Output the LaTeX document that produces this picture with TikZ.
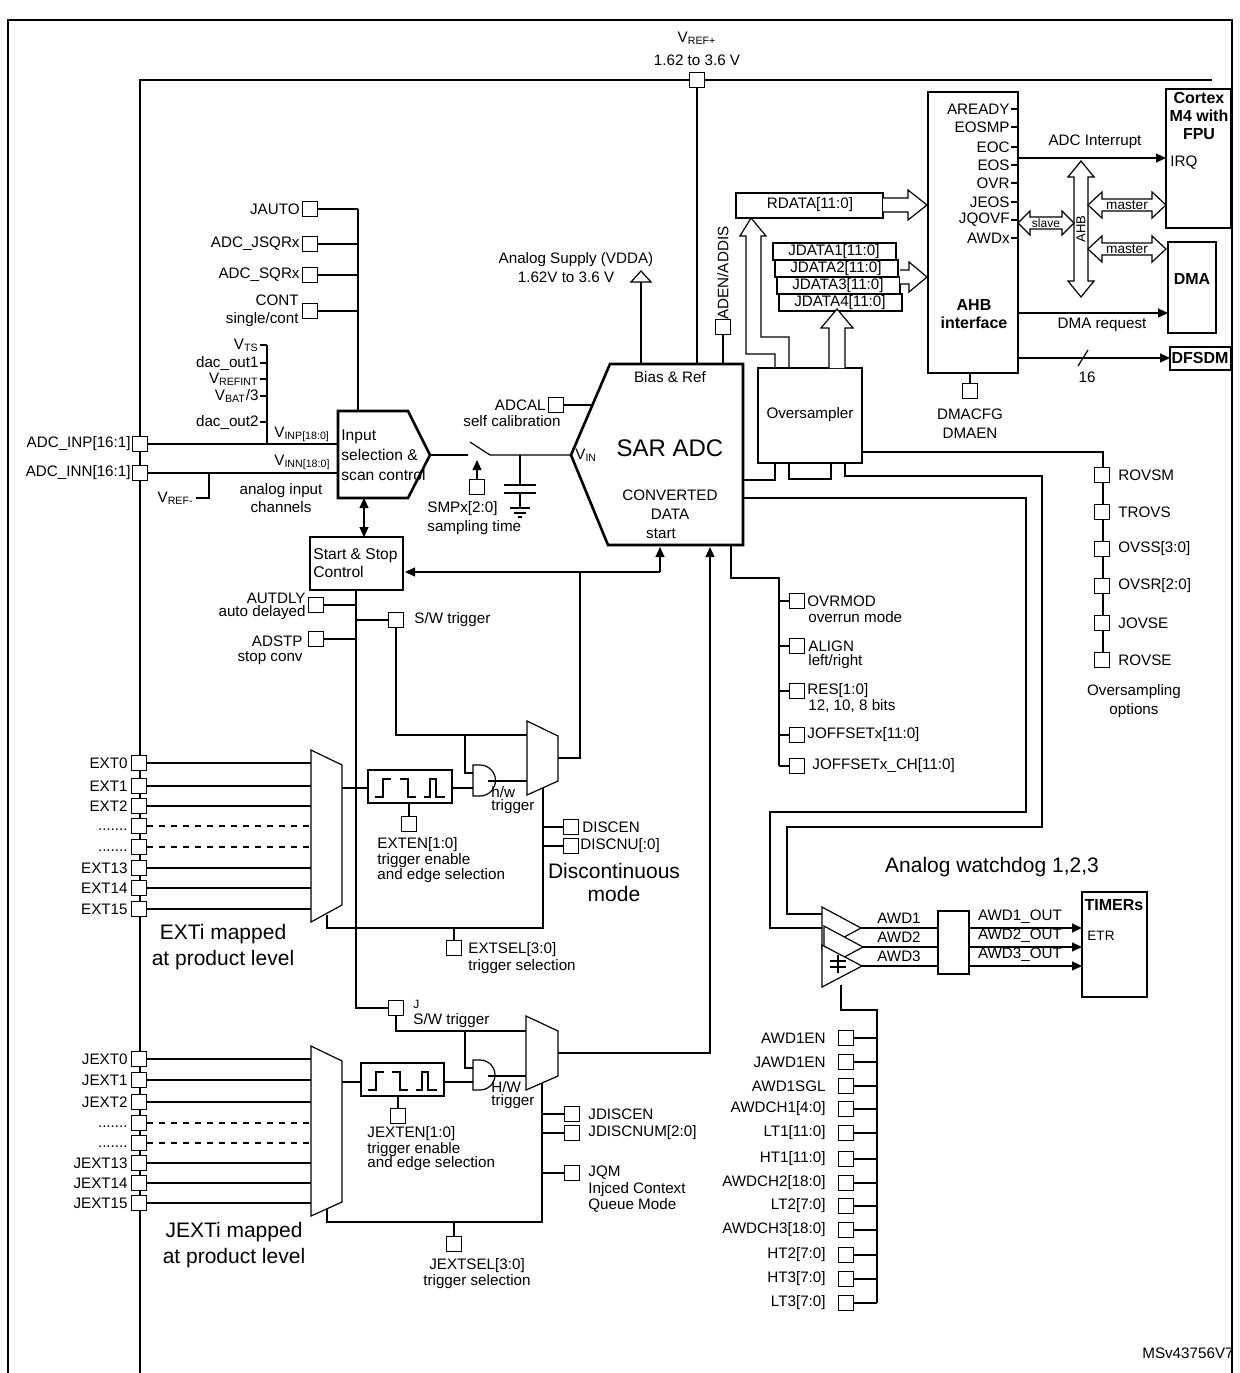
\documentclass[tikz,border=0pt]{standalone}
\usepackage{fontspec}
\setmainfont{Liberation Sans}
\usetikzlibrary{arrows.meta}
\begin{document}
\begin{tikzpicture}[x=0.5pt,y=-0.5pt,
 every node/.style={font=\fontsize{7.6}{9}\selectfont, inner sep=0pt},
 w/.style={line width=0.6pt},
 bw/.style={line width=1.3pt},
 sq/.style={draw,line width=0.6pt,fill=white,minimum width=7.5pt,minimum height=7.5pt},
 arr/.style={-{Triangle[length=5pt,width=4.5pt]}},
 darr/.style={{Triangle[length=5pt,width=4.5pt]}-{Triangle[length=5pt,width=4.5pt]}},
 big/.style={font=\fontsize{10.5}{13}\selectfont},
 bold/.style={font=\fontsize{8}{9.5}\selectfont\bfseries},
 hol/.style={line width=0.6pt,fill=white},
 ]
\useasboundingbox (0,0) rectangle (1240,1373);
% frame
\draw[w] (8,1373)--(8,20)--(1232,20)--(1232,1373);
\draw[bw] (140,1373)--(140,80)--(1212,80);
% VREF+
\node at (697,38) {V\textsubscript{REF+}};
\node at (697,60) {1.62 to 3.6 V};
\draw[w] (697,80)--(697,364);
\node[sq] (vref) at (697,80) {};
% register inputs to input selection
\foreach \y/\t in {209/JAUTO,244/ADC\_JSQRx,275/ADC\_SQRx}{
  \draw[w] (318,\y)--(358,\y); \node[sq] at (310,\y) {}; \node[anchor=east] at (300,\y) {\t};}
\draw[w] (318,311)--(358,311); \node[sq] at (310,311) {};
\node[anchor=east] at (299,300) {CONT}; \node[anchor=east] at (299,320) {single/cont};
\draw[w] (358,209)--(358,411);
% internal channels
\draw[w] (267,345)--(267,444);
\foreach \y/\t in {345/{V\textsubscript{TS}},363/dac\_out1,379/{V\textsubscript{REFINT}},396/{V\textsubscript{BAT}/3},422/dac\_out2}{
  \draw[w] (260,\y)--(267,\y); \node[anchor=east] at (259,\y) {\t};}
% analog inputs
\node[sq] (inp) at (140,444) {}; \node[anchor=east] at (131,444) {ADC\_INP[16:1]};
\node[sq] (inn) at (140,473) {}; \node[anchor=east] at (131,473) {ADC\_INN[16:1]};
\draw[w] (inp.east)--(338,444);
\draw[w] (inn.east)--(338,473);
\draw[w] (209,473)--(209,498)--(196,498);
\node[anchor=east] at (194,498) {V\textsubscript{REF-}};
\node[anchor=west] at (274,434) {V\textsubscript{INP[18:0]}};
\node[anchor=west] at (274,462) {V\textsubscript{INN[18:0]}};
\node[align=center] at (281,498) {analog input\\channels};
% input selection block
\draw[bw] (338,411)--(408,411)--(430,455)--(408,498)--(338,498)--cycle;
\node[anchor=west,align=left,font=\fontsize{7.8}{10}\selectfont] (insel) at (341,455) {Input\\selection \&\\scan control};
\draw[w,darr] (364,498)--(364,537);
% start & stop
\draw[bw] (310,537) rectangle (403,590);
\node[anchor=west,align=left,font=\fontsize{7.8}{8.8}\selectfont] (ss) at (313,563) {Start \& Stop\\Control};
\draw[w,arr] (660,572)--(405,572);
\draw[w,arr] (660,572)--(660,547);
% switch, capacitor
\draw[w] (430,455)--(468,455);
\draw[w] (470,442)--(490,455)--(571,455);
\draw[w] (520,455)--(520,485) (504,485)--(536,485) (504,493)--(536,493) (520,493)--(520,508)
  (510,508)--(530,508) (514,513)--(526,513) (518,517)--(522,517);
\node[sq] (smp) at (477,487) {};
\draw[w,arr] (477,480)--(477,460);
\node[anchor=west] at (427,509) {SMPx[2:0]};
\node[anchor=west] at (427,528) {sampling time};
% ADCAL
\node[sq] (adcal) at (556,405) {};
\draw[w] (adcal.east)--(593,405);
\node[anchor=east] at (546,405) {ADCAL};
\node[anchor=east] at (561,421) {self calibration};
% SAR ADC
\draw[bw] (610,364)--(743,364)--(743,545)--(608,545)--(571,455)--cycle;
\node at (670,377) {Bias \& Ref};
\node[big,font=\fontsize{12}{14}\selectfont] (adc) at (670,448) {SAR ADC};
\node at (670,495) {CONVERTED};
\node at (670,514) {DATA};
\node at (661,534) {start};
\node[anchor=west] at (575,455) {V\textsubscript{IN}};
% VDDA
\draw[w] (641,364)--(641,282);
\draw[hol] (631,282)--(641,271)--(651,282)--cycle;
\node at (576,260) {Analog Supply (VDDA)};
\node at (566,277) {1.62V to 3.6 V};
% ADEN
\node[rotate=90] at (723,273) {ADEN/ADDIS};
\node[sq] (aden) at (723,327) {};
\draw[w] (aden.south)--(723,364);
% RDATA
\draw[w] (736,193) rectangle (883,218);
\node (rdata) at (810,205) {RDATA[11:0]};
\draw[hol] (883,198)--(908,198)--(908,190)--(927,205)--(908,220)--(908,212)--(883,212);
% JDATA
\foreach \i/\dx/\y in {1/0/243,2/2/260,3/4/277,4/6/294}{
  \draw[w,fill=white] (773+\dx,\y) rectangle (896+\dx,\y+17);
  \node at (834+\dx,\y+8.5) {JDATA\i[11:0]};}
\draw[hol] (900,270)--(909,270)--(909,262)--(927,277)--(909,292)--(909,284)--(900,284);
% Oversampler
\draw[w] (758,368) rectangle (862,463);
\node (ovs) at (810,415) {Oversampler};
\draw[hol] (829,368)--(829,328)--(821,328)--(837,309)--(853,328)--(845,328)--(845,368);
\draw[w] (775,368)--(775,354)--(746,354)--(746,236)--(740,236)--(751,218)--(766,236)--(761,236)--(761,337)--(789,337)--(789,368);
\draw[w] (743,480)--(775,480)--(775,463);
\draw[w] (789,463)--(789,479)--(831,479)--(831,463);
\draw[w] (845,463)--(845,476)--(1042,476)--(1042,827)--(787,827)--(787,914)--(822,914);
\draw[w] (743,498)--(1026,498)--(1026,812)--(770,812)--(770,928)--(822,928);
% oversampling options
\draw[w] (862,452)--(1103,452)--(1103,660);
\foreach \y/\t in {475/ROVSM,512/TROVS,549/OVSS[3:0],586/OVSR[2:0],623/JOVSE,660/ROVSE}{
  \node[sq] at (1102,\y) {}; \node[anchor=west] at (1118,\y) {\t};}
\node at (1134,692) {Oversampling};
\node at (1134,711) {options};
% ADC config
\draw[w] (731,545)--(731,578)--(779,578)--(779,766);
\foreach \y in {601,646,691,735,766}{\draw[w] (779,\y)--(790,\y); \node[sq] at (797,\y) {};}
\node[anchor=west] at (807,601) {OVRMOD};
\node[anchor=west] at (808,617) {overrun mode};
\node[anchor=west] at (808,646) {ALIGN};
\node[anchor=west] at (808,662) {left/right};
\node[anchor=west] at (807,691) {RES[1:0]};
\node[anchor=west] at (808,706) {12, 10, 8 bits};
\node[anchor=west] at (807,735) {JOFFSETx[11:0]};
\node[anchor=west] at (812,766) {JOFFSETx\_CH[11:0]};
% AHB
\draw[bw] (928,92) rectangle (1018,373);
\foreach \y/\t in {109/AREADY,127/EOSMP,147/EOC,165/EOS,183/OVR,202/JEOS,220/JQOVF,238/AWDx}{
  \draw[w] (1011,\y)--(1018,\y); \node[anchor=east] at (1010,\y) {\t};}
\node[bold] (ahb) at (974,305) {AHB};
\node[bold] at (974,323) {interface};
\node[sq] (dmacfg) at (970,391) {};
\draw[w] (970,373)--(dmacfg.north);
\node at (970,414) {DMACFG};
\node at (970,433) {DMAEN};
% Cortex
\draw[bw] (1166,89) rectangle (1231,228);
\node[bold,align=center,font=\fontsize{8}{9}\selectfont\bfseries] (cortex) at (1199,116) {Cortex\\M4 with\\FPU};
\node[anchor=west] at (1170,163) {IRQ};
\draw[w,arr] (1018,158)--(1166,158);
\node at (1095,142) {ADC Interrupt};
% DMA
\draw[bw] (1168,242) rectangle (1216,333);
\node[bold] (dma) at (1192,279) {DMA};
\draw[w,arr] (1018,313)--(1168,313);
\node at (1102,325) {DMA request};
% DFSDM
\draw[bw] (1170,347) rectangle (1231,370);
\node[bold] (dfsdm) at (1200,358) {DFSDM};
\draw[w,arr] (1018,358)--(1170,358);
\draw[w] (1078,366)--(1088,350);
\node at (1087,377) {16};
% AHB bus
\draw[hol] (1081,161)--(1094,177)--(1088,177)--(1088,281)--(1094,281)--(1081,297)--(1068,281)--(1074,281)--(1074,177)--(1068,177)--cycle;
\node[rotate=90,font=\fontsize{6.5}{7}\selectfont] at (1081,229) {AHB};
\draw[hol] (1018,223)--(1030,211)--(1030,217)--(1062,217)--(1062,211)--(1074,223)--(1062,235)--(1062,229)--(1030,229)--(1030,235)--cycle;
\node[font=\fontsize{6}{7}\selectfont] at (1046,223) {slave};
\foreach \y in {205,249}{
\draw[hol] (1088,\y)--(1102,\y-13)--(1102,\y-6)--(1152,\y-6)--(1152,\y-13)--(1166,\y)--(1152,\y+13)--(1152,\y+6)--(1102,\y+6)--(1102,\y+13)--cycle;
\node[font=\fontsize{6.8}{7}\selectfont] at (1127,\y) {master};}
% ---- EXT section
\draw[w] (356,590)--(356,1008)--(388,1008);
\node[sq] at (316,605) {}; \draw[w] (324,605)--(356,605);
\node[anchor=east] at (306,598) {AUTDLY}; \node[anchor=east] at (306,613) {auto delayed};
\node[sq] at (316,639) {}; \draw[w] (324,639)--(356,639);
\node[anchor=east] at (303,641) {ADSTP}; \node[anchor=east] at (303,658) {stop conv};
\node[sq] (sw) at (396,620) {}; \draw[w] (356,620)--(sw.west);
\node[anchor=west] at (414,620) {S/W trigger};
\foreach \y/\t in {763/EXT0,786/EXT1,806/EXT2,868/EXT13,888/EXT14,909/EXT15}{
  \draw[w] (147,\y)--(311,\y); \node[sq] at (139,\y) {}; \node[anchor=east] at (128,\y) {\t};}
\foreach \y in {826,847}{
  \draw[w,dashed] (147,\y)--(311,\y); \node[sq] at (139,\y) {}; \node[anchor=east] at (128,\y+4) {.......};}
\draw[w] (311,750)--(342,765)--(342,905)--(311,922)--cycle;
\draw[w] (342,788)--(368,788);
\draw[w] (368,770) rectangle (452,803);
\draw[w] (375,797)--(383,797)--(383,779)--(391,779) (400,779)--(408,779)--(408,797)--(416,797)
  (424,797)--(430,797)--(430,779)--(436,779)--(436,797)--(445,797);
\draw[w] (452,788)--(473,788);
\draw[w] (473,765)--(480,765) arc(-90:90:15.5)--(473,796)--cycle;
\draw[w] (488,781)--(527,781);
\draw[w] (396,628)--(396,735)--(527,735);
\draw[w] (465,735)--(465,773)--(473,773);
\draw[w] (527,721)--(558,736)--(558,781)--(527,795)--cycle;
\draw[w] (558,758)--(580,758)--(580,572);
\node[anchor=west] at (491,792) {h/w};
\node[anchor=west] at (491,807) {trigger};
\draw[w] (543,788)--(543,928)--(327,928)--(327,915);
\node[sq] at (571,827) {}; \draw[w] (543,827)--(563,827);
\node[sq] at (571,846) {}; \draw[w] (543,846)--(563,846);
\node[anchor=west] at (582,827) {DISCEN};
\node[anchor=west] at (580,846) {DISCNU[:0]};
\node[big,align=center,font=\fontsize{10.5}{11.5}\selectfont] at (614,882) {Discontinuous\\mode};
\node[sq] at (409,824) {}; \draw[w] (409,803)--(409,816);
\node[anchor=west] at (377,845) {EXTEN[1:0]};
\node[anchor=west] at (377,861) {trigger enable};
\node[anchor=west] at (377,876) {and edge selection};
\node[sq] at (454,948) {}; \draw[w] (454,928)--(454,941);
\node[anchor=west] at (468,950) {EXTSEL[3:0]};
\node[anchor=west] at (468,967) {trigger selection};
\node[big,align=center] at (223,947) {EXTi mapped\\at product level};
% ---- JEXT section
\node[sq] (jsw) at (396,1008) {};
\node[anchor=west,font=\fontsize{6}{7}\selectfont] at (413,1004) {J};
\node[anchor=west] at (413,1021) {S/W trigger};
\foreach \y/\t in {1059/JEXT0,1080/JEXT1,1102/JEXT2,1163/JEXT13,1183/JEXT14,1203/JEXT15}{
  \draw[w] (147,\y)--(311,\y); \node[sq] at (139,\y) {}; \node[anchor=east] at (128,\y) {\t};}
\foreach \y in {1123,1143}{
  \draw[w,dashed] (147,\y)--(311,\y); \node[sq] at (139,\y) {}; \node[anchor=east] at (128,\y+4) {.......};}
\draw[w] (311,1046)--(342,1061)--(342,1202)--(311,1216)--cycle;
\draw[w] (342,1082)--(361,1082);
\draw[w] (361,1063) rectangle (444,1096);
\draw[w] (368,1090)--(376,1090)--(376,1072)--(384,1072) (392,1072)--(400,1072)--(400,1090)--(408,1090)
  (416,1090)--(422,1090)--(422,1072)--(428,1072)--(428,1090)--(437,1090);
\draw[w] (444,1082)--(473,1082);
\draw[w] (473,1060)--(480,1060) arc(-90:90:15)--(473,1090)--cycle;
\draw[w] (488,1076)--(526,1076);
\draw[w] (396,1016)--(396,1031)--(526,1031);
\draw[w] (465,1031)--(465,1068)--(473,1068);
\draw[w] (526,1016)--(558,1031)--(558,1076)--(526,1090)--cycle;
\draw[w,arr] (558,1053)--(710,1053)--(710,547);
\node[anchor=west] at (491,1087) {H/W};
\node[anchor=west] at (491,1102) {trigger};
\draw[w] (542,1083)--(542,1222)--(327,1222)--(327,1209);
\foreach \y/\t in {1114/JDISCEN,1133/JDISCNUM[2:0]}{
  \node[sq] at (572,\y) {}; \draw[w] (542,\y)--(564,\y); \node[anchor=west] at (588,\y) {\t};}
\node[sq] at (572,1173) {}; \draw[w] (542,1173)--(564,1173);
\node[anchor=west] at (588,1173) {JQM};
\node[anchor=west] at (588,1190) {Injced Context};
\node[anchor=west] at (588,1205) {Queue Mode};
\node[sq] at (398,1116) {}; \draw[w] (398,1096)--(398,1108);
\node[anchor=west] at (367,1134) {JEXTEN[1:0]};
\node[anchor=west] at (367,1150) {trigger enable};
\node[anchor=west] at (367,1164) {and edge selection};
\node[sq] at (454,1244) {}; \draw[w] (454,1222)--(454,1236);
\node at (477,1266) {JEXTSEL[3:0]};
\node at (477,1282) {trigger selection};
\node[big,align=center] at (234,1245) {JEXTi mapped\\at product level};
% ---- Analog watchdog
\node[big] at (992,867) {Analog watchdog 1,2,3};
\draw[w,fill=white] (822,907)--(861,928)--(822,949)--cycle;
\draw[w,fill=white] (824,926)--(863,947)--(824,968)--cycle;
\draw[w,fill=white] (822,945)--(862,966)--(822,987)--cycle;
\draw[w] (830,961)--(846,961) (830,967)--(846,967) (838,955)--(838,973);
\draw[w] (861,928)--(938,928) (863,947)--(938,947) (862,966)--(938,966);
\node at (899,918) {AWD1}; \node at (899,937) {AWD2}; \node at (899,956) {AWD3};
\draw[bw] (938,911) rectangle (969,974);
\foreach \y/\t in {928/AWD1\_OUT,947/AWD2\_OUT,966/AWD3\_OUT}{
  \draw[w,arr] (969,\y)--(1082,\y); \node at (1020,\y-11) {\t};}
\draw[bw] (1082,892) rectangle (1147,997);
\node[bold] (timers) at (1114,905) {TIMERs};
\node[anchor=west,font=\fontsize{6.8}{8}\selectfont] at (1087,936) {ETR};
\draw[w] (841,985)--(841,1010)--(877,1010)--(877,1303);
\foreach \y/\t in {1038/AWD1EN,1062/JAWD1EN,1086/AWD1SGL,1109/AWDCH1[4:0],1133/LT1[11:0],1159/HT1[11:0],1183/AWDCH2[18:0],1206/LT2[7:0],1230/AWDCH3[18:0],1255/HT2[7:0],1279/HT3[7:0],1303/LT3[7:0]}{
  \node[sq] at (846,\y) {}; \draw[w] (854,\y)--(877,\y); \node[anchor=east] at (826,\y) {\t};}
\node[anchor=east] at (1234,1353) {MSv43756V7};
\end{tikzpicture}
\end{document}
